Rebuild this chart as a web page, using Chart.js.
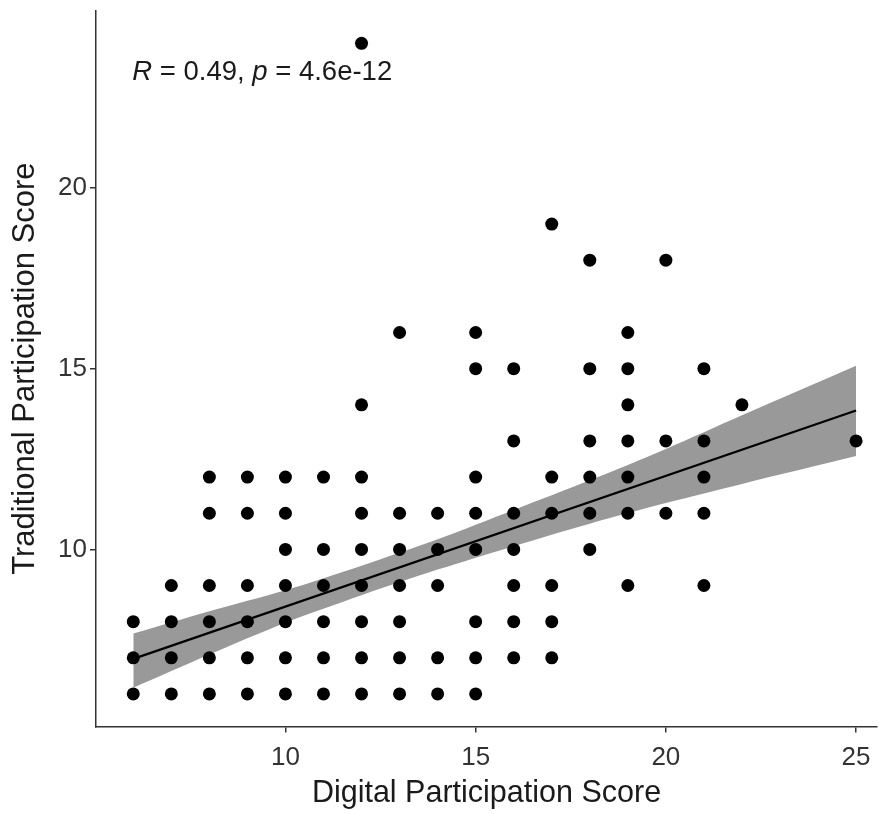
<!DOCTYPE html>
<html>
<head>
<meta charset="utf-8">
<script src="https://cdn.jsdelivr.net/npm/chart.js@4.4.1/dist/chart.umd.min.js"></script>
<style>
  html, body { margin: 0; padding: 0; background: #fff; }
  #wrap { width: 888px; height: 814px; }
</style>
</head>
<body>
<div id="wrap"><canvas id="scatter" width="888" height="814"></canvas></div>
<script>
// points, paired by index
const digitalScore = [
    6, 6, 6,
    7, 7, 7, 7,
    8, 8, 8, 8, 8, 8,
    9, 9, 9, 9, 9, 9,
    10, 10, 10, 10, 10, 10, 10,
    11, 11, 11, 11, 11, 11,
    12, 12, 12, 12, 12, 12, 12, 12, 12,
    13, 13, 13, 13, 13, 13, 13,
    14, 14, 14, 14, 14,
    15, 15, 15, 15, 15, 15, 15, 15,
    16, 16, 16, 16, 16, 16, 16,
    17, 17, 17, 17, 17, 17,
    18, 18, 18, 18, 18, 18,
    19, 19, 19, 19, 19, 19, 19,
    20, 20, 20,
    21, 21, 21, 21, 21,
    22,
    25
];
const traditionalScore = [
    8, 7, 6,
    9, 8, 7, 6,
    12, 11, 9, 8, 7, 6,
    12, 11, 9, 8, 7, 6,
    12, 11, 10, 9, 8, 7, 6,
    12, 10, 9, 8, 7, 6,
    24, 14, 12, 11, 10, 9, 8, 7, 6,
    16, 11, 10, 9, 8, 7, 6,
    11, 10, 9, 7, 6,
    16, 15, 12, 11, 10, 8, 7, 6,
    15, 13, 11, 10, 9, 8, 7,
    19, 12, 11, 9, 8, 7,
    18, 15, 13, 12, 11, 10,
    16, 15, 14, 13, 12, 11, 9,
    18, 13, 11,
    15, 13, 12, 11, 9,
    14,
    13
];

// regression line and its confidence band
const fitX = [6, 25];
const fitY = [6.97, 13.84];
const bandX = [6, 8, 10, 12, 14, 16, 18, 20, 22, 25];
const bandLower = [6.17, 7.09, 7.97, 8.73, 9.44, 10.09, 10.71, 11.28, 11.81, 12.58];
const bandUpper = [7.67, 8.29, 8.87, 9.55, 10.28, 11.09, 11.91, 12.78, 13.71, 15.08];

const xTicks = [10, 15, 20, 25];
const yTicks = [10, 15, 20];

const FONT = "'Liberation Sans', Arial, sans-serif";

function pairs(xs, ys) {
    return xs.map((x, i) => ({ x: x, y: ys[i] }));
}

// R / p label in the top left corner
const corLabel = {
    id: 'corLabel',
    afterDatasetsDraw(chart) {
        const c = chart.ctx;
        const parts = [
            ['R', true], [' = 0.49, ', false], ['p', true], [' = 4.6e-12', false]
        ];
        let x = chart.scales.x.getPixelForValue(6) - 1;
        const y = 80;
        c.save();
        c.fillStyle = '#1a1a1a';
        c.textBaseline = 'alphabetic';
        c.textAlign = 'left';
        parts.forEach(function (p) {
            c.font = (p[1] ? 'italic ' : '') + '27.5px ' + FONT;
            c.fillText(p[0], x, y);
            x += c.measureText(p[0]).width;
        });
        c.restore();
    }
};

const ctx = document.getElementById('scatter');
new Chart(ctx, {
    type: 'scatter',
    data: {
        datasets: [
            {
                data: pairs(digitalScore, traditionalScore),
                backgroundColor: '#000',
                borderWidth: 0,
                pointRadius: 6.5,
                order: 0
            },
            {
                type: 'line',
                data: pairs(fitX, fitY),
                borderColor: '#000',
                borderWidth: 2.2,
                pointRadius: 0,
                fill: false,
                order: 1
            },
            {
                type: 'line',
                data: pairs(bandX, bandLower),
                borderWidth: 0,
                borderColor: 'rgba(0,0,0,0)',
                pointRadius: 0,
                tension: 0.3,
                fill: false,
                order: 3
            },
            {
                type: 'line',
                data: pairs(bandX, bandUpper),
                borderWidth: 0,
                borderColor: 'rgba(0,0,0,0)',
                backgroundColor: '#999999',
                pointRadius: 0,
                tension: 0.3,
                fill: '-1',
                order: 2
            }
        ]
    },
    options: {
        responsive: false,
        animation: false,
        events: [],
        layout: { padding: { top: 10.8, right: 11, bottom: 0, left: 0 } },
        plugins: {
            legend: { display: false },
            tooltip: { enabled: false }
        },
        scales: {
            x: {
                type: 'linear',
                min: 5.02,
                max: 25.55,
                afterBuildTicks: function (s) { s.ticks = xTicks.map(v => ({ value: v })); },
                afterFit: function (s) {
                    s.height = 87.5;
                    s.paddingLeft = 0;
                    s.paddingRight = 0;
                },
                grid: { drawOnChartArea: false, tickLength: 6, color: '#333', lineWidth: 1.5 },
                border: { color: '#333', width: 1.5 },
                ticks: { color: '#333', padding: 10, font: { size: 26, family: FONT } },
                title: {
                    display: true,
                    text: 'Digital Participation Score',
                    color: '#1a1a1a',
                    font: { size: 30.5, family: FONT },
                    padding: { top: 0, bottom: 2 }
                }
            },
            y: {
                type: 'linear',
                min: 5.1,
                max: 24.9,
                afterBuildTicks: function (s) { s.ticks = yTicks.map(v => ({ value: v })); },
                afterFit: function (s) {
                    s.width = 96;
                    s.paddingTop = 0;
                    s.paddingBottom = 0;
                },
                grid: { drawOnChartArea: false, tickLength: 6, color: '#333', lineWidth: 1.5 },
                border: { color: '#333', width: 1.5 },
                ticks: { color: '#333', padding: 3, font: { size: 26, family: FONT } },
                title: {
                    display: true,
                    text: 'Traditional Participation Score',
                    color: '#1a1a1a',
                    font: { size: 31, family: FONT },
                    padding: { top: 7, bottom: 0 }
                }
            }
        }
    },
    plugins: [corLabel]
});
</script>
</body>
</html>
